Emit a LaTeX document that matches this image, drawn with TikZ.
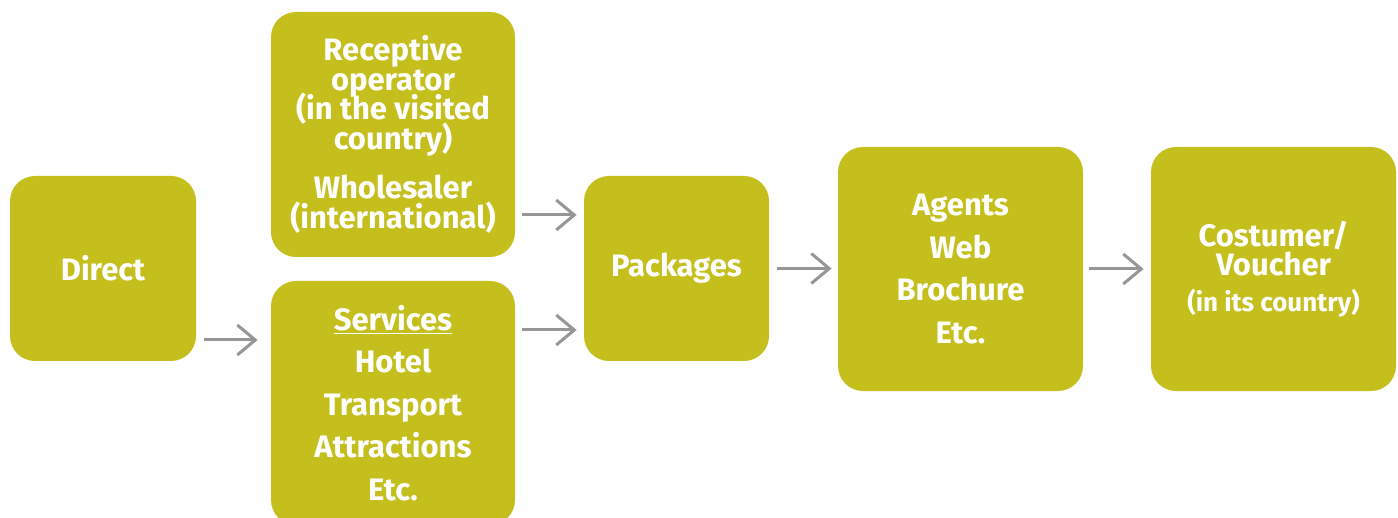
\documentclass[tikz,border=0pt]{standalone}
\usepackage{fontspec}
\setmainfont{Fira Sans}
\usetikzlibrary{arrows.meta}

\definecolor{boxolive}{RGB}{197,191,30}
\definecolor{arrowgray}{RGB}{150,150,150}
\newcommand{\tightlines}{\setlength{\lineskiplimit}{-20pt}}

\begin{document}
\begin{tikzpicture}[x=0.5pt, y=-0.5pt,
		box/.style={fill=boxolive, rounded corners=12.5pt, text=white, align=center,
			inner sep=0pt, font=\bfseries\fontsize{15.5}{21.25}\selectfont},
		tight/.style={font=\bfseries\fontsize{15.5}{14.75}\selectfont\tightlines},
		flow/.style={draw=arrowgray, line width=1.5pt, shorten <=3.5pt, shorten >=3.5pt,
			-{Straight Barb[length=9pt, width=15pt]}}]
		\useasboundingbox (0,0) rectangle (1398,518);

		% suppliers on the left
		\node[box, minimum width=93pt, minimum height=92.5pt] (direct) at (103, 268.5) {Direct};
		\node[box, tight, minimum width=122pt, minimum height=122.5pt] (receptive) at (393, 134.5)
		{Receptive\\operator\\(in the visited\\country)\\[10pt]Wholesaler\\(international)};
		\node[box, minimum width=122pt, minimum height=122pt] (services) at (393, 403)
		{\underline{Services}\\Hotel\\Transport\\Attractions\\Etc.};

		% middle and right of the chain
		\node[box, minimum width=92.5pt, minimum height=92.5pt] (packages) at (676.5, 268.5) {Packages};
		\node[box, minimum width=122.5pt, minimum height=122pt] (agents) at (960.5, 269)
		{Agents\\Web\\Brochure\\Etc.};
		\node[box, tight, minimum width=122.5pt, minimum height=122pt] (costumer) at (1273.5, 269)
		{Costumer/\\Voucher\\[3pt]{\fontsize{13}{14}\selectfont (in its country)}};

		% arrows
		\draw[flow, shorten <=4pt, shorten >=6.5pt] ([yshift=-35.75pt]direct.east) coordinate (d1)
			-- (d1 -| services.west);
		\coordinate (in1) at ([yshift=26.75pt]packages.west);
		\coordinate (in2) at ([yshift=-30.75pt]packages.west);
		\draw[flow] (in1 -| receptive.east) -- (in1);
		\draw[flow] (in2 -| services.east) -- (in2);
		\draw[flow, shorten <=4pt, shorten >=3pt] (packages.east) -- (packages.east -| agents.west);
		\draw[flow, shorten <=3pt] (agents.east) -- (agents.east -| costumer.west);
	\end{tikzpicture}
\end{document}
